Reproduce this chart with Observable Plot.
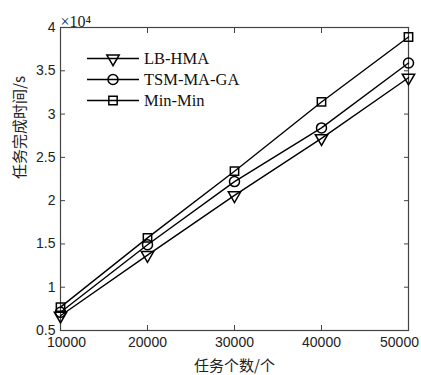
<!DOCTYPE html>
<html>
<head>
<meta charset="utf-8">
<script src="https://cdn.jsdelivr.net/npm/d3@7"></script>
<script src="https://cdn.jsdelivr.net/npm/@observablehq/plot@0.6"></script>
<style>
  html, body { margin: 0; padding: 0; background: #fff; }
  #wrap { position: relative; width: 421px; height: 375px; }
  #legend { position: absolute; left: 86px; top: 48px; font-family: "Liberation Serif", "Times New Roman", serif; font-size: 16.5px; color: #111; }
  .row { display: flex; align-items: center; height: 21px; }
  .row svg { margin-right: 4px; }
</style>
</head>
<body>
<div id="wrap"></div>
<script>
const taskCounts = [10000, 20000, 30000, 40000, 50000];
const seriesNames = ["LB-HMA", "TSM-MA-GA", "Min-Min"];
const lbHma = [0.67, 1.37, 2.06, 2.72, 3.42];
const tsmMaGa = [0.71, 1.49, 2.22, 2.84, 3.59];
const minMin = [0.77, 1.57, 2.34, 3.14, 3.89];
const xTicks = [10000, 20000, 30000, 40000, 50000];
const yTicks = [0.5, 1, 1.5, 2, 2.5, 3, 3.5, 4];
const xLabel = "任务个数/个";
const yLabel = "任务完成时间/s";
const yExponent = "×10⁴";

const symbols = {"LB-HMA": "triangle", "TSM-MA-GA": "circle", "Min-Min": "square"};
const rotations = {"LB-HMA": 180, "TSM-MA-GA": 0, "Min-Min": 0};
const sizes = {"LB-HMA": 4.6, "TSM-MA-GA": 5.0, "Min-Min": 4.7};

const valuesBySeries = [lbHma, tsmMaGa, minMin];
const rows = [];
seriesNames.forEach((s, i) => taskCounts.forEach((x, j) => rows.push({series: s, x, y: valuesBySeries[i][j]})));

const axisColor = "#444";
const tickFont = "'Liberation Sans', Arial, sans-serif";
const dotMarks = seriesNames.map(s => Plot.dot(rows.filter(d => d.series === s), {
  x: "x", y: "y", symbol: () => symbols[s], r: sizes[s], rotate: rotations[s],
  stroke: "#000", strokeWidth: 1.5, fill: "none"
}));

const chart = Plot.plot({
  width: 421,
  height: 375,
  marginLeft: 60,
  marginRight: 13,
  marginTop: 27,
  marginBottom: 45,
  style: {fontFamily: tickFont, fontSize: "14px", color: "#222", background: "#fff"},
  x: {domain: [10000, 50000], label: null},
  y: {domain: [0.5, 4], label: null},
  symbol: {type: "identity"},
  marks: [
    Plot.frame({stroke: axisColor, strokeWidth: 1.2}),
    // inward tick lines on all four sides
    Plot.axisX({anchor: "bottom", ticks: xTicks, tickSize: -5, tickFormat: () => "", stroke: axisColor, label: null}),
    Plot.axisX({anchor: "top", ticks: xTicks, tickSize: -5, tickFormat: () => "", stroke: axisColor, label: null}),
    Plot.axisY({anchor: "right", ticks: yTicks, tickSize: -5, tickFormat: () => "", stroke: axisColor, label: null}),
    // x tick labels (end labels nudged inward as in the reference)
    Plot.axisX({anchor: "bottom", ticks: xTicks.slice(0, 1), tickSize: 0, tickPadding: 7, dx: 6, tickFormat: d => String(d), label: null}),
    Plot.axisX({anchor: "bottom", ticks: xTicks.slice(1, -1), tickSize: 0, tickPadding: 7, tickFormat: d => String(d), label: null}),
    Plot.axisX({anchor: "bottom", ticks: xTicks.slice(-1), tickSize: 0, tickPadding: 7, dx: -9, tickFormat: d => String(d), label: null}),
    Plot.axisY({anchor: "left", ticks: yTicks, tickSize: -5, tickPadding: 10, tickFormat: d => String(d), stroke: axisColor, label: null}),
    Plot.line(rows, {x: "x", y: "y", z: "series", stroke: "#000", strokeWidth: 1.4}),
    ...dotMarks,
    Plot.text([yLabel], {frameAnchor: "left", dx: -40, rotate: -90, fontSize: 15, fontFamily: "'Noto Sans CJK SC', sans-serif", fill: "#222"}),
    Plot.text([xLabel], {frameAnchor: "bottom", dy: 40, fontSize: 15, fontFamily: "'Noto Sans CJK SC', sans-serif", fill: "#222"}),
    Plot.text([yExponent], {frameAnchor: "top-left", dy: -12, dx: 0, textAnchor: "start", fontSize: 16, fontFamily: "'Liberation Serif', serif", fill: "#222"})
  ]
});

const wrap = document.getElementById("wrap");
wrap.appendChild(chart);

// Legend
const legend = document.createElement("div");
legend.id = "legend";
seriesNames.forEach(s => {
  const row = document.createElement("div");
  row.className = "row";
  const svg = d3.create("svg").attr("width", 54).attr("height", 21);
  svg.append("line").attr("x1", 1).attr("x2", 53).attr("y1", 10.5).attr("y2", 10.5).attr("stroke", "#000").attr("stroke-width", 1.4);
  const sym = {triangle: d3.symbolTriangle, circle: d3.symbolCircle, square: d3.symbolSquare}[symbols[s]];
  const r = sizes[s];
  svg.append("path")
    .attr("d", d3.symbol(sym, r * r * Math.PI)())
    .attr("transform", `translate(27,10.5) rotate(${rotations[s]})`)
    .attr("fill", "none").attr("stroke", "#000").attr("stroke-width", 1.5);
  row.appendChild(svg.node());
  const t = document.createElement("span");
  t.textContent = s;
  row.appendChild(t);
  legend.appendChild(row);
});
wrap.appendChild(legend);
</script>
</body>
</html>
